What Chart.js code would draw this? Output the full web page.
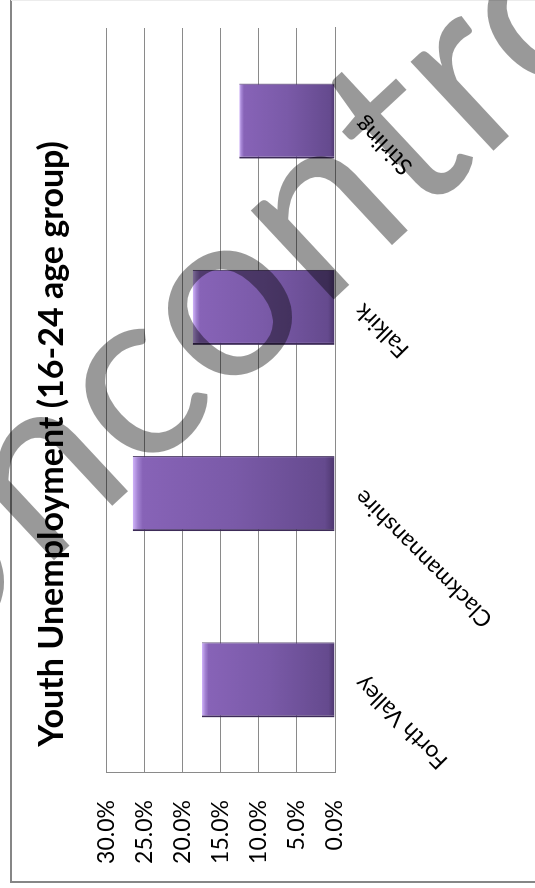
<!DOCTYPE html>
<html>
<head>
<meta charset="utf-8">
<title>Youth Unemployment (16-24 age group)</title>
<script src="https://cdn.jsdelivr.net/npm/chart.js"></script>
<style>
	html, body { margin: 0; padding: 0; background: #fff; width: 535px; height: 888px; overflow: hidden; }
	/* the chart is laid out upright (888 x 535) and then turned a quarter turn, like the picture */
	#wrap { position: absolute; left: 0; top: 0; width: 888px; height: 535px;
		transform-origin: 0 0; transform: translateY(888px) rotate(-90deg); }
</style>
</head>
<body>
<div id="wrap"><canvas id="youth-chartcanvas" width="888" height="535"></canvas></div>
<script>
var chartTitle = 'Youth Unemployment (16-24 age group)';
var categories = ['Forth Valley', 'Clackmannanshire', 'Falkirk', 'Stirling'];
var rates = [17.5, 26.6, 18.7, 12.6];
var axisMin = 0;
var axisMax = 30;
var axisStep = 5;
var watermark = 'Uncontrolled';

var gridColor = '#8a8a8a';

function barFill(c) {
	var chart = c.chart;
	if (!chart.chartArea || c.raw === undefined) {
		return '#7a5aa8';
	}
	var ys = chart.scales.y;
	var top = ys.getPixelForValue(c.raw);
	var base = ys.getPixelForValue(0);
	var g = chart.ctx.createLinearGradient(0, top, 0, base);
	g.addColorStop(0, '#d2b6fb');
	g.addColorStop(0.025, '#a383d2');
	g.addColorStop(0.05, '#8763b7');
	g.addColorStop(0.5, '#7a5aa8');
	g.addColorStop(0.95, '#654a8e');
	g.addColorStop(1, '#4c366d');
	return g;
}

// frame round the chart and the grey watermark over it
var framePlugin = {
	id: 'frame',
	beforeDraw: function (chart) {
		var ctx = chart.ctx;
		ctx.save();
		ctx.strokeStyle = '#868686';
		ctx.lineWidth = 2;
		ctx.beginPath();
		ctx.moveTo(888, 11);
		ctx.lineTo(6, 11);
		ctx.lineTo(6, 535);
		ctx.stroke();
		ctx.strokeStyle = '#ececec';
		ctx.lineWidth = 1;
		ctx.beginPath();
		ctx.moveTo(887.5, 11);
		ctx.lineTo(887.5, 535);
		ctx.stroke();
		ctx.restore();
	},
	afterDraw: function (chart) {
		var ctx = chart.ctx;
		var size = 240;
		ctx.save();
		ctx.font = 'normal ' + size + 'px Lato';
		ctx.fillStyle = 'rgba(0, 0, 0, 0.4)';
		ctx.textBaseline = 'alphabetic';
		var wUn = ctx.measureText('Un').width;
		var wc = ctx.measureText('c').width;
		var xh = size * 0.506;
		ctx.translate(491, 140);
		ctx.rotate(47 * Math.PI / 180);
		ctx.fillText(watermark, -(wUn + wc / 2), xh / 2);
		ctx.restore();
	}
};

var ctx = document.getElementById('youth-chartcanvas');

var data = {
	labels: categories,
	datasets: [
		{
			label: 'Youth unemployment',
			data: rates,
			backgroundColor: barFill,
			borderColor: '#3d2b58',
			borderWidth: { left: 2, right: 1, top: 0, bottom: 0 },
			borderSkipped: false,
			barPercentage: 0.403,
			categoryPercentage: 1
		}
	]
};

var options = {
	responsive: false,
	animation: false,
	layout: { padding: 0 },
	plugins: {
		legend: { display: false },
		tooltip: { enabled: false },
		title: {
			display: true,
			text: chartTitle,
			color: '#000',
			font: { family: 'Lato', size: 34, weight: 'bold', lineHeight: 1.2 },
			padding: { top: 32, bottom: 34 }
		}
	},
	scales: {
		x: {
			ticks: {
				autoSkip: false,
				maxRotation: 45,
				minRotation: 45,
				padding: 14,
				color: '#000',
				font: { family: 'Lato', size: 23 }
			},
			grid: { display: false, drawTicks: false },
			border: { display: true, color: gridColor, width: 1 },
			afterFit: function (s) { s.height = 200; }
		},
		y: {
			min: axisMin,
			max: axisMax,
			ticks: {
				stepSize: axisStep,
				padding: 27,
				color: '#000',
				font: { family: 'Lato', size: 23 },
				callback: function (v) { return v.toFixed(1) + '%'; }
			},
			grid: { color: gridColor, lineWidth: 1, drawTicks: false },
			border: { display: true, color: gridColor, width: 1 },
			afterFit: function (s) { s.width = 115; }
		},
		y2: {
			position: 'right',
			display: true,
			ticks: { display: false },
			grid: { display: false, drawTicks: false },
			border: { display: false },
			afterFit: function (s) { s.width = 28; }
		}
	}
};

var bar = new Chart(ctx, {
	type: 'bar',
	data: data,
	options: options,
	plugins: [framePlugin]
});
</script>
</body>
</html>
